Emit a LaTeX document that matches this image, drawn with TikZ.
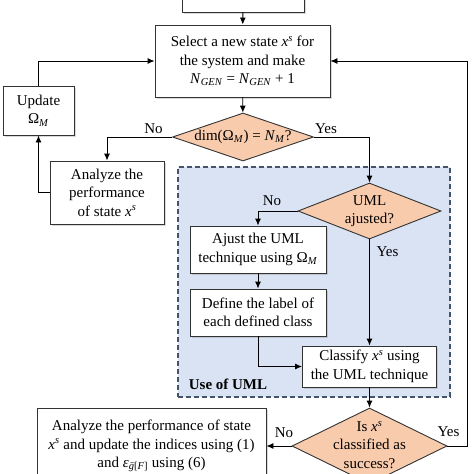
\documentclass[tikz,border=0pt]{standalone}
\usepackage{fontspec}
\setmainfont{Liberation Serif}
\usetikzlibrary{positioning,shapes.geometric,shadows,arrows.meta}

\definecolor{peach}{HTML}{F8CBAD}
\definecolor{zonefill}{HTML}{DAE3F3}
\definecolor{zoneline}{HTML}{44546A}

\newcommand{\xs}{\textit{x}\textsuperscript{\textit{s}}}
\newcommand{\OmM}{Ω\textsubscript{\textit{M}}}

\tikzset{
  box/.style={draw=black!80, fill=white, align=center, inner sep=2pt,
    drop shadow={shadow xshift=1.5pt, shadow yshift=-1.5pt, opacity=0.3}},
  decision/.style={diamond, draw=black!80, fill=peach, align=center, inner sep=0pt},
  zone/.style={draw=zoneline, fill=zonefill, dash pattern=on 5pt off 3pt, line width=1.1pt}
}

\begin{document}
\begin{tikzpicture}[x=1pt, y=-1pt, line width=0.9pt,
    >={Latex[length=7pt,width=6pt]},
    font=\fontsize{15}{18.5}\selectfont]
  \useasboundingbox (0,0) rectangle (474,474);

  % region of the UML steps
  \node (umlzone) at (314,282) [zone, minimum width=272pt, minimum height=230pt] {};
  \node (umlzonetitle) at (228,384) {\textbf{Use of UML}};

  \node (start) at (243,-10) [box, minimum width=122pt, minimum height=44pt] {};
  \node (select) at (242.5,61) [box, minimum width=175pt, minimum height=72pt]
    {Select a new state \xs{} for\\the system and make\\\textit{N}\textsubscript{\textit{GEN}} = \textit{N}\textsubscript{\textit{GEN}} + 1};
  \node (dimq) at (243,137) [decision, minimum width=141pt, minimum height=48pt, aspect=2.94]
    {dim(\OmM) = \textit{N}\textsubscript{\textit{M}}?};
  \node (update) at (38.5,110.5) [box, minimum width=71pt, minimum height=49pt] {Update\\\OmM};
  \node (analyze) at (107,192.5) [box, minimum width=114pt, minimum height=63pt]
    {Analyze the\\performance\\of state \xs};
  \node (umlq) at (369.5,211) [decision, minimum width=143pt, minimum height=56pt, aspect=2.55]
    {UML\\ajusted?};
  \node (ajust) at (258,249.5) [box, minimum width=136pt, minimum height=47pt]
    {Ajust the UML\\technique using \OmM};
  \node (deflabel) at (258,312.5) [box, minimum width=136pt, minimum height=47pt]
    {Define the label of\\each defined class};
  \node (classify) at (369.5,366.5) [box, minimum width=134pt, minimum height=41pt]
    {Classify \xs{} using\\the UML technique};
  \node (success) at (369.5,446) [decision, minimum width=155pt, minimum height=76pt] {};
  \node (successtext) at (369.5,445) [align=center] {Is \xs\\classified as\\success?};
  \node (indices) at (151.5,446) [box, minimum width=229pt, minimum height=76pt]
    {Analyze the performance of state\\\xs{} and update the indices using (1)\\and \textit{ε}\textsubscript{\textit{\={g}}[\textit{F}]} using (6)};
  \coordinate (loop) at (467,61);

  \node (dimno) at (153.5,129) {No};
  \node (dimyes) at (326,129) {Yes};
  \node (umlno) at (272,201) {No};
  \node (umlyes) at (387.5,252) {Yes};
  \node (succno) at (284,433) {No};
  \node (succyes) at (448.5,432) {Yes};

  \path[->]
    (start) edge (select)
    (select) edge (dimq)
    (ajust) edge (deflabel)
    (classify) edge (success)
    (success) edge (indices);
  \draw[->] (dimq.west) -| (analyze.north);
  \draw[->] (analyze.west) -| (update.south);
  \draw[->] (update.north) |- (select.west);
  \draw[->] (dimq.east) -| (umlq.north);
  \draw[->] (umlq.west) -| (ajust.north);
  \draw[->] (umlq.south) -- (classify.north);
  \draw[->] (deflabel.south) |- (classify.west);
  \draw[->] (success.east) -| (loop) -- (select.east);
\end{tikzpicture}
\end{document}
